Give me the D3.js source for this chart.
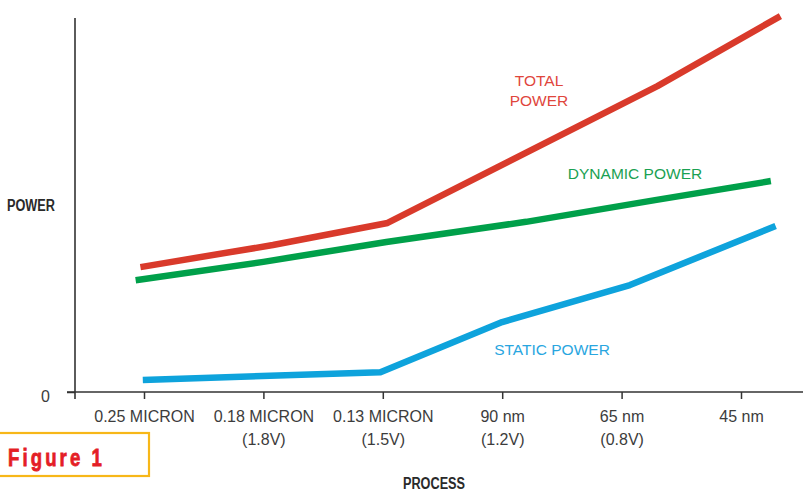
<!DOCTYPE html>
<html>
<head>
<meta charset="utf-8">
<script src="https://cdn.jsdelivr.net/npm/d3@7"></script>
<style>
  body { margin: 0; background: #fff; }
  svg { display: block; }
</style>
</head>
<body>
<div id="container"></div>
<script>
let w = 803;
let h = 490;

// categories along the x axis (index 0..5)
let processNames = ["0.25 MICRON", "0.18 MICRON", "0.13 MICRON", "90 nm", "65 nm", "45 nm"];
let voltages = ["", "(1.8V)", "(1.5V)", "(1.2V)", "(0.8V)", ""];

// series: x = process index, y = power (arbitrary units, 0..100)
let totalPower = [[-0.03, 33.4], [1.08, 39.3], [2.04, 45.2], [4.3, 81.8], [5.33, 100.5]];
let dynamicPower = [[-0.07, 29.9], [1.0, 34.8], [2.03, 40.1], [3.2, 45.5], [4.28, 51.3], [5.25, 56.4]];
let staticPower = [[-0.01, 3.2], [1.98, 5.3], [3.0, 18.7], [4.07, 28.6], [5.29, 44.4]];

let viz = d3.select("#container")
  .append("svg")
    .attr("width", w)
    .attr("height", h)
    .style("background-color", "white");

let xScale = d3.scaleLinear().domain([0, 5]).range([144, 741]);
let yScale = d3.scaleLinear().domain([0, 100]).range([392, 18]);

let axisColor = "#333";
let labelColor = "#3c3c3c";

// x axis
let xAxis = d3.axisBottom(xScale)
  .tickValues(d3.range(processNames.length))
  .tickSize(7)
  .tickPadding(12)
  .tickFormat(function(i){ return processNames[i]; });
let xAxisG = viz.append("g").attr("class", "xaxis")
  .attr("transform", "translate(0," + yScale(0) + ")")
  .call(xAxis);
xAxisG.select(".domain").remove();
xAxisG.selectAll(".tick line").attr("stroke", axisColor).attr("stroke-width", 1.5);
xAxisG.selectAll(".tick text")
  .attr("fill", labelColor)
  .style("font-family", "'Liberation Sans', Arial, sans-serif")
  .style("font-size", "16px")
  .each(function(i){
    let t = d3.select(this);
    if(voltages[i] != ""){
      t.append("tspan")
        .attr("x", 0)
        .attr("dy", "1.4em")
        .text(voltages[i]);
    }
  });
xAxisG.append("line")
  .attr("x1", 67).attr("x2", w)
  .attr("y1", 0).attr("y2", 0)
  .attr("stroke", axisColor).attr("stroke-width", 1.6);

// y axis
let yAxis = d3.axisLeft(yScale).tickValues([0]).tickSize(8).tickPadding(17);
let yAxisG = viz.append("g").attr("class", "yaxis")
  .attr("transform", "translate(75,0)")
  .call(yAxis);
yAxisG.select(".domain").remove();
yAxisG.append("line")
  .attr("x1", 0).attr("x2", 0)
  .attr("y1", 18).attr("y2", yScale(0) + 7)
  .attr("stroke", axisColor).attr("stroke-width", 1.6);
yAxisG.selectAll(".tick line").attr("stroke", axisColor).attr("stroke-width", 1.5);
yAxisG.selectAll(".tick text")
  .attr("fill", labelColor)
  .attr("dy", "0.62em")
  .style("font-family", "'Liberation Sans', Arial, sans-serif")
  .style("font-size", "16px");

// axis titles (condensed bold look, squeezed with textLength)
viz.append("text")
  .attr("x", 7).attr("y", 205)
  .attr("dominant-baseline", "central")
  .attr("fill", "#2a2a2a")
  .attr("textLength", 48)
  .attr("lengthAdjust", "spacingAndGlyphs")
  .style("font-family", "'Liberation Sans', Arial, sans-serif")
  .style("font-weight", "bold")
  .style("font-size", "16px")
  .text("POWER");

viz.append("text")
  .attr("x", 403).attr("y", 483)
  .attr("dominant-baseline", "central")
  .attr("fill", "#2a2a2a")
  .attr("textLength", 62)
  .attr("lengthAdjust", "spacingAndGlyphs")
  .style("font-family", "'Liberation Sans', Arial, sans-serif")
  .style("font-weight", "bold")
  .style("font-size", "16px")
  .text("PROCESS");

// lines
let lineMaker = d3.line()
  .x(function(d){ return xScale(d[0]); })
  .y(function(d){ return yScale(d[1]); });

let series = [
  {values: dynamicPower, color: "#00a04a"},
  {values: staticPower, color: "#0ea3dc"},
  {values: totalPower, color: "#d93a2b"}
];

viz.selectAll(".series").data(series).enter()
  .append("path")
    .attr("class", "series")
    .attr("d", function(d){ return lineMaker(d.values); })
    .attr("fill", "none")
    .attr("stroke", function(d){ return d.color; })
    .attr("stroke-width", 6.5)
    .attr("stroke-linejoin", "round");

// series labels
let seriesLabels = [
  {lines: ["TOTAL", "POWER"], x: 539, y: 80, color: "#e0463c"},
  {lines: ["DYNAMIC POWER"], x: 635, y: 173, color: "#1aa152"},
  {lines: ["STATIC POWER"], x: 552, y: 349, color: "#29a6df"}
];
seriesLabels.forEach(function(s){
  let t = viz.append("text")
    .attr("text-anchor", "middle")
    .attr("fill", s.color)
    .style("font-family", "'Liberation Sans', Arial, sans-serif")
    .style("font-size", "15.5px");
  s.lines.forEach(function(line, k){
    t.append("tspan")
      .attr("x", s.x)
      .attr("y", s.y + k * 20)
      .attr("dominant-baseline", "central")
      .text(line);
  });
});

// Figure 1 box
viz.append("rect")
  .attr("x", -2).attr("y", 433)
  .attr("width", 151).attr("height", 43)
  .attr("fill", "white")
  .attr("stroke", "#f7b718")
  .attr("stroke-width", 2.2);
viz.append("text")
  .attr("x", 8).attr("y", 457)
  .attr("dominant-baseline", "central")
  .attr("fill", "#e41e26")
  .attr("stroke", "#e41e26")
  .attr("stroke-width", 0.8)
  .attr("textLength", 97)
  .attr("lengthAdjust", "spacingAndGlyphs")
  .style("font-family", "'Liberation Sans', Arial, sans-serif")
  .style("font-weight", "bold")
  .style("font-size", "24px")
  .style("letter-spacing", "4px")
  .text("Figure 1");
</script>
</body>
</html>
